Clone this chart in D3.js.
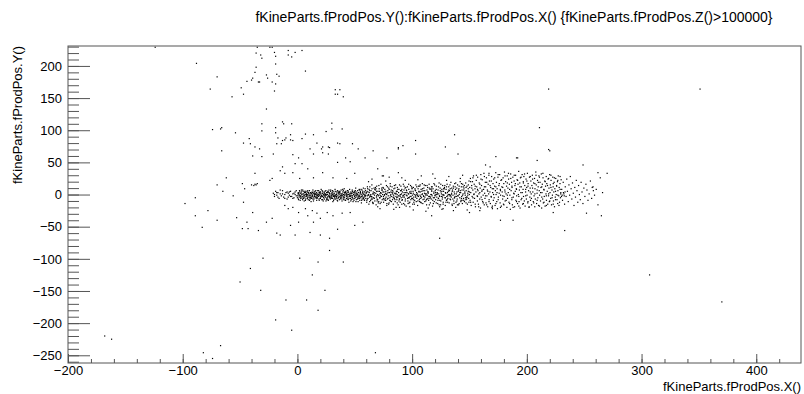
<!DOCTYPE html>
<html><head><meta charset="utf-8">
<script src="https://cdn.jsdelivr.net/npm/d3@7"></script>
<style>body{margin:0;background:#fff} text{font-family:"Liberation Sans",Arial,Helvetica,sans-serif}</style>
</head><body><svg id="c" width="804" height="394"></svg>
<script>
const title = "fKineParts.fProdPos.Y():fKineParts.fProdPos.X() {fKineParts.fProdPos.Z()>100000}";
const xTitle = "fKineParts.fProdPos.X()";
const yTitle = "fKineParts.fProdPos.Y()";
const xDomain = [-200, 439];
const yDomain = [-262, 231];
const xTickValues = [-200, -100, 0, 100, 200, 300, 400];
const yTickValues = [-250, -200, -150, -100, -50, 0, 50, 100, 150, 200];
const xMinorStep = 20, yMinorStep = 10;

// dense band of production points (x, y pairs)
const bandStart = [-21,2,-20,-3,-19,5,-18,-1,-17,3,-16,-6,-15,1,-14,-2,-13,6,-12,-4,-11,0,-10,3,-9,-7,-8,2,-7,-1,-6,5,-5,-3,-4,1,-3,-5,-2,4,-1,-2,-20,0,-17,-4,-13,1,-9,4,-6,-3,-3,2,-1,6,-15,7,-11,-6,-7,4,-4,-6,-2,0,-18,3,-8,-4];
const bandCore = [0.3,-2,0.7,3,0.9,-7,1.2,1,1.5,-4,1.8,6,2.1,-1,2.4,-9,2.8,2,3.1,-5,3.5,4,3.9,0,4.2,-3,4.6,7,4.9,-6,5.3,1,5.6,-2,5.9,-10,6.1,3,6.4,-4,6.8,0,7.2,-7,7.5,5,7.8,-1,7.9,2,8.3,-3,8.6,-6,8.9,4,9.1,0,9.4,-8,9.8,2,10.2,-4,10.5,6,10.7,-1,10.9,-5,11.3,3,11.6,-2,11.9,-11,12.1,1,12.4,-6,12.8,4,12.9,-3,13.2,-1,13.5,7,13.8,-4,14.1,2,14.4,-7,14.7,0,14.9,-2,15.3,5,15.5,-5,15.8,1,16.2,-3,16.5,3,16.8,-9,16.9,-1,17.1,2,17.4,-5,17.7,6,18.2,0,18.5,-3,18.8,-7,18.9,3,19.3,-1,19.6,4,19.9,-6,20.1,1,20.4,-4,20.7,8,20.9,-2,21.2,-8,21.5,2,21.8,-3,22.1,5,22.4,-1,22.7,-5,22.9,0,23.3,3,23.6,-7,23.9,-2,24.2,1,24.5,-4,24.8,6,24.9,-10,25.1,-1,25.4,3,25.7,-6,26.3,0,26.6,-3,26.9,4,26.5,-8,27.2,-2,27.5,7,27.8,-5,28.1,2,28.4,-1,28.7,-7,28.9,5,29.3,-4,29.6,1,29.9,-2,30.2,3,30.5,-6,30.8,0,30.9,-11,31.1,5,31.4,-3,31.7,-1,32.2,2,32.5,-5,32.8,8,32.9,-2,33.3,-7,33.6,0,33.9,4,34.1,-4,34.4,1,34.7,-9,34.9,6,35.2,-2,35.5,3,35.8,-5,36.3,0,36.6,-8,36.9,5,36.4,-3,37.2,2,37.5,-1,37.8,-6,38.1,7,38.4,-4,38.7,1,38.9,-10,39.3,-2,39.6,4,39.9,-7,40.2,0,40.5,-3,40.8,9,40.9,3,41.1,-5,41.4,1,41.7,-9,42.2,5,42.5,-2,42.8,-6,42.9,2,43.3,-1,43.6,6,43.9,-4,44.1,3,44.4,-8,44.7,0,44.9,-12,45.2,-3,45.5,8,45.8,1,46.3,-6,46.6,4,46.9,-1,46.5,-10,47.2,2,47.5,-4,47.8,7,48.1,-2,48.4,-7,48.7,3,48.9,0,49.3,-9,49.6,5,49.9,-3,50.2,1,50.5,-5,50.8,10,50.9,-1,51.1,4,51.4,-8,51.7,-2,52.2,0,52.5,6,52.8,-6,52.9,-11,53.3,3,53.6,-3,53.9,8,54.1,-1,54.4,-9,54.7,2,54.9,5,55.2,-5,55.5,0,55.8,-13,56.3,7,56.6,-2,56.9,3,56.5,-7,57.2,-4,57.5,10,57.8,1,58.1,-8,58.4,4,58.7,-1,58.9,-3,59.3,6,59.6,-6,59.9,2];
const bandCore2 = [0,-5,1,2,1,-8,2,4,3,-2,3,-6,4,1,5,5,5,-4,6,-1,7,-9,7,3,8,0,9,-5,9,6,10,-2,11,1,11,-7,12,-4,13,3,13,-1,14,-10,15,-3,15,2,16,6,17,-6,17,0,18,-2,19,-9,19,1,20,4,20,-6,21,-1,22,2,22,-8,23,-4,24,5,24,-2,25,0,26,-5,26,3,27,-9,28,1,28,-3,29,7,30,-1,30,-4,31,2,32,-7,32,-1,33,5,34,-3,34,0,35,-10,36,2,36,-5,37,4,38,-2,38,-7,39,1,40,-5,40,6,41,-1,42,-9,42,3,43,-3,44,0,44,6,45,-6,46,2,46,-3,47,-8,48,5,48,-5,49,0,50,-2,50,3,51,-11,52,-4,52,2,53,-1,54,7,54,-6,55,3,56,-3,56,-9,57,5,58,0,58,-5,59,-2,59,9,
0.5,1,2.5,-3,4.5,-8,6.5,5,8.5,-1,10.5,-9,12.5,2,14.5,4,16.5,-5,18.5,6,20.5,-3,22.5,-10,24.5,0,26.5,5,28.5,-4,30.5,6,32.5,-3,34.5,-6,36.5,3,38.5,-1,40.5,-8,42.5,0,44.5,4,46.5,-2,48.5,-11,50.5,6,52.5,-7,54.5,-3,56.5,1,58.5,-9,1.5,-1,3.5,7,5.5,-6,7.5,-3,9.5,3,11.5,-5,13.5,-7,15.5,0,17.5,-2,19.5,3,21.5,6,23.5,1,25.5,-8,27.5,3,29.5,-6,31.5,-9,33.5,-2,35.5,5,37.5,-4,39.5,8,41.5,4,43.5,-7,45.5,-1,47.5,2,49.5,-6,51.5,1,53.5,-4,55.5,8,57.5,-6,59.5,-1];
const bandMid = [60.4,-12,60.7,5,60.9,-2,61.2,9,61.5,-6,61.8,0,62.3,-15,62.6,3,62.9,-4,63.1,12,63.5,-1,63.8,-9,64.2,6,64.6,-3,64.9,15,65.3,-7,65.6,1,65.9,-13,66.1,4,66.4,-5,66.8,10,67.2,-1,67.5,-10,67.9,7,68.3,2,68.6,-16,68.9,-4,69.1,13,69.4,-7,69.8,0,70.2,5,70.5,-2,70.9,-11,71.3,9,71.6,-5,71.9,1,72.1,-14,72.5,3,72.8,16,73.2,-3,73.5,7,73.9,-8,74.3,0,74.6,11,74.9,-6,75.1,-12,75.4,4,75.8,-1,76.2,8,76.6,-9,76.9,2,77.3,-4,77.6,14,77.9,-17,78.1,1,78.5,-7,78.8,6,79.2,-2,79.6,10,79.9,-13,80.3,3,80.6,-5,80.9,17,81.1,-10,81.4,0,81.8,7,82.2,-3,82.5,12,82.9,-8,83.3,4,83.6,-15,83.9,-1,84.1,9,84.5,-6,84.8,2,85.2,-11,85.6,15,85.9,-3,86.3,5,86.7,-8,86.9,0,87.1,11,87.4,-4,87.8,-16,88.2,3,88.5,8,88.9,-7,89.3,-1,89.6,-12,89.9,6,90.2,13,90.5,-5,90.8,1,91.1,-9,91.5,4,91.9,-2,92.3,16,92.6,-14,92.9,7,93.2,-4,93.5,0,93.8,10,94.1,-7,94.4,3,94.8,-18,95.2,6,95.6,-2,95.9,12,96.3,-10,96.6,1,96.9,-5,97.1,8,97.5,-13,97.8,4,98.2,-3,98.6,14,98.9,-8,99.3,2,99.6,-6,99.9,9,100.2,-1,100.5,-15,100.8,5,101.1,11,101.4,-4,101.8,0,102.2,-9,102.6,7,102.9,-2,103.3,15,103.6,-11,103.9,3,104.1,-6,104.5,1,104.8,-17,105.2,9,105.5,-3,105.9,5,106.3,-8,106.6,13,106.9,-1,107.1,4,107.4,-12,107.8,8,108.2,-5,108.6,0,108.9,17,109.3,-14,109.6,6,109.9,-2,110.2,10,110.5,-7,110.8,2,111.1,-4,111.5,14,111.9,-10,112.3,1,112.6,-16,112.9,7,113.2,-1,113.5,11,113.8,-6,114.1,4,114.4,-9,114.8,16,115.2,-3,115.6,8,115.9,-13,116.3,0,116.7,-7,116.9,12,117.1,5,117.4,-2,117.8,-18,118.2,9,118.5,-5,118.9,2,119.3,-11,119.6,15,119.9,-1,120.2,6,120.5,-8,120.8,0,121.1,13,121.5,-4,121.9,3,122.3,-14,122.6,7,122.9,-6,123.2,1,123.5,18,123.8,-2,124.1,-9,124.4,10,124.8,-16,125.2,4,125.6,-3,125.9,8,126.3,-7,126.6,14,126.9,0,127.1,-12,127.4,5,127.8,-1,128.2,11,128.6,-5,128.9,-17,129.3,2,129.6,8,129.9,-9,130.2,-3,130.5,16,130.8,3,131.1,-6,131.5,0,131.9,12,132.3,-13,132.6,6,132.9,-2,133.2,9,133.5,-8,133.8,19,134.1,-4,134.4,2,134.8,-15,135.2,7,135.6,-1,135.9,13,136.3,-10,136.7,4,136.9,-5,137.1,17,137.4,-3,137.8,8,138.2,-12,138.5,1,138.9,10,139.3,-7,139.6,15,139.9,-2,140.2,5,140.5,-16,140.8,9,141.1,0,141.5,-5,141.9,20,142.3,3,142.6,-9,142.9,12,143.2,-3,143.5,7,143.8,-14,144.1,16,144.4,1,144.8,-6,145.2,10,145.6,-11,145.9,4,146.3,-1,146.7,18,146.9,-8,147.1,6,147.4,-4,147.8,13,148.2,-15,148.5,2,148.9,9,149.3,-6,149.6,21,149.9,0];
const bandMid2 = [60,3,61,-7,61,12,62,-1,63,6,63,-11,64,0,65,-4,65,9,66,-14,67,3,67,-6,68,11,69,-2,69,5,70,-8,71,14,71,-1,72,-5,73,2,73,-12,74,7,75,-3,75,10,76,0,77,-9,77,5,78,-14,79,3,79,-6,80,8,81,-2,81,13,82,-11,83,1,83,6,84,-4,85,-8,85,10,86,2,87,-13,87,5,88,-2,89,15,89,-7,90,0,91,8,91,-15,92,-4,93,3,93,13,94,-10,95,-1,95,7,96,-6,97,16,97,1,98,-12,99,5,99,-3,100,10,101,-8,101,2,102,-15,103,6,103,-4,104,12,105,-1,105,-10,106,4,107,-6,107,15,108,-13,109,1,109,9,110,-3,111,6,111,-11,112,-1,113,14,113,-7,114,2,115,-16,115,10,116,-4,117,7,117,0,118,-9,119,4,119,17,120,-2,121,-13,121,8,122,1,123,-6,123,12,124,-3,125,16,125,-10,126,5,127,-1,127,-15,128,9,129,-5,129,3,130,12,131,-12,131,-2,132,7,133,-7,133,15,134,0,135,-17,135,5,136,10,137,-5,137,1,138,18,139,-10,139,4,140,-2,141,13,141,-14,142,6,143,-6,143,17,144,-1,145,-9,145,7,146,2,147,-13,147,11,148,-4,149,15,149,5,
60.5,-9,62.5,8,64.5,-7,66.5,1,68.5,9,70.5,-13,72.5,-2,74.5,4,76.5,-6,78.5,12,80.5,-9,82.5,3,84.5,14,86.5,-5,88.5,-10,90.5,6,92.5,-1,94.5,11,96.5,-14,98.5,2,100.5,-6,102.5,9,104.5,-2,106.5,-11,108.5,5,110.5,15,112.5,-8,114.5,-3,116.5,9,118.5,-14,120.5,3,122.5,-9,124.5,6,126.5,-4,128.5,14,130.5,-8,132.5,0,134.5,10,136.5,-14,138.5,-3,140.5,7,142.5,-11,144.5,12,146.5,-5,148.5,-1,61.5,4,63.5,-3,65.5,-12,67.5,8,69.5,-10,71.5,5,73.5,10,75.5,-8,77.5,0,79.5,-15,81.5,4,83.5,-5,85.5,1,87.5,8,89.5,-3,91.5,-8,93.5,-16,95.5,3,97.5,-5,99.5,12,101.5,-12,103.5,0,105.5,13,107.5,-3,109.5,-8,111.5,1,113.5,4,115.5,-6,117.5,12,119.5,-5,121.5,0,123.5,-16,125.5,1,127.5,9,129.5,-12,131.5,5,133.5,-2,135.5,-7,137.5,12,139.5,-16,141.5,3,143.5,-9,145.5,14,147.5,-7,149.5,-12,
65,24,72,-22,80,27,86,-20,94,22,101,-24,108,29,114,-21,120,25,126,-23,132,28,138,-20,144,30,148,-24,62,20,70,-19,77,21,84,-23,91,26,98,-19,105,23,112,-26,118,32,124,-19,130,22,136,-25,142,25];
const bandFar = [150.2,11,150.5,-9,150.8,25,151.1,3,151.5,-17,151.9,14,152.3,-3,152.6,20,152.9,7,153.2,-12,153.5,29,153.8,0,154.1,16,154.4,-6,154.8,9,155.2,-19,155.6,4,155.9,22,156.3,12,156.7,-2,156.9,-10,157.1,27,157.4,6,157.8,-15,158.2,1,158.5,18,158.9,-7,159.3,10,159.6,-21,159.9,31,160.2,-4,160.5,14,160.8,5,161.1,23,161.5,-11,161.9,-1,162.3,8,162.6,33,162.9,-16,163.2,2,163.5,-6,163.8,19,164.1,12,164.4,-13,164.8,26,165.2,-2,165.6,7,165.9,-19,166.3,16,166.7,1,166.9,30,167.1,-8,167.4,21,167.8,4,168.2,-14,168.5,11,168.9,-3,169.3,28,169.6,-20,169.9,9,170.2,3,170.5,17,170.8,-9,171.1,24,171.5,-5,171.9,13,172.3,-17,172.6,6,172.9,34,173.2,0,173.5,19,173.8,-11,174.1,9,174.4,-22,174.8,27,175.2,-4,175.6,14,175.9,2,176.3,31,176.7,-13,176.9,8,177.1,-1,177.4,22,177.8,-18,178.2,12,178.5,4,178.9,-7,179.3,26,179.6,-15,179.9,17,180.2,-3,180.5,35,180.8,7,181.1,-10,181.5,20,181.9,1,182.3,13,182.6,-20,182.9,29,183.2,-6,183.5,10,183.8,3,184.1,24,184.4,-12,184.8,16,185.2,-1,185.6,-23,185.9,32,186.3,6,186.7,19,186.9,-8,187.1,11,187.4,-16,187.8,27,188.2,-4,188.5,2,188.9,21,189.3,-19,189.6,14,189.9,5,190.2,30,190.5,-9,190.8,9,191.1,-2,191.5,23,191.9,-14,192.3,16,192.6,0,192.9,36,193.2,-11,193.5,7,193.8,18,194.1,-21,194.4,26,194.8,3,195.2,12,195.6,-6,195.9,31,196.3,-15,196.7,8,196.9,20,197.1,-3,197.4,28,197.8,-10,198.2,14,198.5,-18,198.9,4,199.3,24,199.6,-7,199.9,11,200.2,-1,200.5,33,200.8,-13,201.1,17,201.5,6,201.9,-20,202.3,27,202.6,-4,202.9,10,203.2,-9,203.5,21,203.8,1,204.1,-16,204.4,14,204.8,30,205.2,4,205.6,-11,205.9,18,206.3,-2,206.7,25,206.9,-19,207.1,9,207.4,-7,207.8,35,208.2,15,208.5,-14,208.9,2,209.3,22,209.6,-5,209.9,12,210.2,-17,210.5,29,210.8,6,211.1,-1,211.5,19,211.9,-10,212.3,11,212.6,32,212.9,-21,213.2,3,213.5,16,213.8,-7,214.1,26,214.4,-13,214.8,8,215.2,-3,215.6,21,215.9,-18,216.3,13,216.7,1,216.9,28,217.1,-9,217.4,17,217.8,5,218.2,-15,218.5,24,218.9,-2,219.3,10,219.6,-11,219.9,31,220.2,3,220.5,15,220.8,-6,221.1,22,221.5,-16,221.9,7,222.3,-1,222.6,27,222.9,12,223.2,-10,223.5,4,223.8,19,224.1,-19,224.4,9,224.8,-4,225.2,25,225.6,0,225.9,14,226.3,-8,226.7,20,226.9,-14,227.1,6,227.4,29,227.8,-2,228.2,11,228.5,-12,228.9,17,229.3,-5,229.6,3,229.9,23];
const bandFar2 = [150,4,151,-12,151,20,152,10,153,-5,153,26,154,1,155,13,155,-15,156,30,157,-3,157,8,158,-19,159,16,159,3,160,24,161,-8,161,7,162,-13,163,28,163,12,164,-2,165,19,165,-16,166,5,167,33,167,-11,168,14,169,-4,169,21,170,-18,171,9,171,0,172,26,173,-14,173,12,174,3,175,31,175,-8,176,17,177,-20,177,6,178,23,179,-2,179,11,180,-16,181,29,181,4,182,-9,183,18,183,-1,184,33,185,8,185,-14,186,25,187,-5,187,13,188,-20,189,30,189,1,190,17,191,-11,191,8,192,22,193,-3,193,-18,194,12,195,27,195,-8,196,3,197,18,197,-14,198,32,199,-2,199,8,200,21,201,-11,201,13,202,-19,203,28,203,4,204,-6,205,24,205,10,206,-13,207,17,207,1,208,30,209,-9,209,7,210,19,211,-18,211,27,212,3,213,-4,213,12,214,33,215,-12,215,7,216,20,217,-2,217,-17,218,14,219,25,219,1,220,-10,221,11,221,30,222,-5,223,17,223,-15,224,26,225,5,225,-8,226,13,227,-1,227,22,228,-17,229,8,229,28];
const bandEnd = [230.4,8,231.1,-9,231.7,19,232.3,1,232.9,-15,233.5,12,234.2,-3,234.8,24,235.4,5,236.1,-11,236.7,15,237.3,-1,237.9,28,238.6,9,239.2,-7,239.8,18,240.5,2,241.1,-17,241.8,11,242.4,-4,243.1,22,243.7,6,244.4,-12,245.1,14,245.8,0,246.6,-8,247.3,19,248.1,4,248.9,-14,249.7,10,250.6,-3,251.5,16,252.4,7,253.3,-9,254.3,1,255.4,21,256.5,-6,257.7,12,259.0,-1,260.5,8,262,-16,264,26,266,3,230.8,-1,231.9,3,232.6,-2,233.3,4,229.5,1,230.2,-3];
// sparse halo around the target region
const halo = [-124,229,-88,204,-70,183,-76,164,-57,152,-67,102,-74,101,-35,229,-24,229,-22,229,-8,224,4,224,-36,220,-32,217,-20,221,-19,215,-8,217,-5,214,-2,221,-31,212,-19,203,-36,198,7,192,-37,190,-27,186,-26,181,-18,187,-16,184,-39,181,-44,176,-40,178,-34,175,-33,175,-22,175,-19,172,-20,161,-49,166,-47,156,33,163,37,163,33,156,35,156,40,152,-27,133,-31,110,-13,113,-12,110,-5,110,-31,99,-19,104,-19,96,30,111,30,102,39,102,25,98,7,94,14,93,-17,88,-10,88,-6,93,-4,84,4,87,-13,84,-11,85,-18,79,-14,79,-6,85,-47,80,-42,87,-41,79,-37,74,-33,71,22,74,27,74,28,73,35,80,37,79,48,79,17,80,88,71,53,71,21,71,11,71,
-39,60,-31,59,-21,63,-4,62,1,57,-2,48,4,48,9,40,14,63,22,65,27,63,42,57,46,51,35,50,59,57,-13,43,-11,33,-15,37,-37,33,-35,17,-40,15,-48,17,-46,9,-24,22,-22,25,2,25,-4,34,14,26,22,34,31,26,43,25,50,33,-38,14,-37,16,-36,15,
-11,-17,-8,-22,-4,-20,1,-28,7,-22,9,-33,13,-25,17,-29,20,-37,14,-43,1,-43,-6,-48,26,-28,31,-33,39,-29,46,-28,-22,-37,-27,-43,-39,-28,-44,-43,-43,-53,-34,-56,-18,-60,-15,-63,-2,-63,11,-59,20,-63,28,-68,35,-54,50,-48,57,-43,-47,-12,-48,-53,
-66,104,-54,96,-66,68,-62,26,-70,15,-89,-5,-65,5,-56,-2,-78,-25,-89,-33,-70,-40,-83,-51,-53,-36,-98,-14,
28,-87,18,-105,2,-99,40,-105,13,-125,24,-149,8,-164,18,-180,-10,-164,-30,-99,-41,-115,-50,-136,-19,-195,-32,-149,
66,68,78,57,88,73,92,76,103,63,129,74,140,63,173,59,70,40,88,34,75,29,164,46,168,43,117,-33,150,-28,177,-40,127,-22,89,-20,159,-25,170,-22,
137,93,211,104,103,84,191,57,219,70,209,53,249,46,262,34,270,33,257,11,258,6,265,-33,252,-29,233,-56,124,-68,188,-40,74,29,192,57,220,68,223,-28];
// isolated points far from the band
const outliers = [-168,-220,-162,-225,-82,-246,-74,-255,-67,-235,-5,-211,68,-246,219,164,351,164,307,-125,370,-167];

const m = {l: 68, r: 801, t: 46, b: 363};
const svg = d3.select("#c");
const x = d3.scaleLinear().domain(xDomain).range([m.l, m.r]);
const y = d3.scaleLinear().domain(yDomain).range([m.b, m.t]);

function pairs(a){ return d3.range(0, a.length, 2).map(i => [a[i], a[i+1]]); }
const pts = [].concat(pairs(bandStart), pairs(bandCore), pairs(bandCore2), pairs(bandMid), pairs(bandMid2),
  pairs(bandFar), pairs(bandFar2), pairs(bandEnd), pairs(halo), pairs(outliers));

svg.append("g").selectAll("rect").data(pts).join("rect")
  .attr("x", d => x(d[0]) - 0.6).attr("y", d => y(d[1]) - 0.6)
  .attr("width", 1.2).attr("height", 1.2).attr("fill", "#000");

const axisColor = "#555";
function styleAxis(g){
  g.select(".domain").remove();
  g.selectAll("line").attr("stroke", axisColor);
  g.selectAll("text").attr("fill", "#000").style("font-size", "13px").style("font-family", '"Liberation Sans", Arial, sans-serif');
}
const fmt = d => d < 0 ? "\u2212" + Math.abs(d) : String(d);
// y axis
svg.append("g").attr("transform", `translate(${m.l},0)`)
  .call(d3.axisLeft(y).tickValues(d3.range(-260, 231, yMinorStep)).tickSize(-11).tickFormat(""))
  .call(styleAxis);
svg.append("g").attr("transform", `translate(${m.l},0)`)
  .call(d3.axisLeft(y).tickValues(yTickValues).tickSize(-22).tickPadding(6).tickFormat(fmt))
  .call(styleAxis);
// x axis
svg.append("g").attr("transform", `translate(0,${m.b})`)
  .call(d3.axisBottom(x).tickValues(d3.range(-200, 440, xMinorStep)).tickSize(-4).tickFormat(""))
  .call(styleAxis);
svg.append("g").attr("transform", `translate(0,${m.b})`)
  .call(d3.axisBottom(x).tickValues(xTickValues).tickSize(-9).tickPadding(3).tickFormat(fmt))
  .call(styleAxis);

svg.append("rect").attr("x", m.l).attr("y", m.t).attr("width", m.r - m.l).attr("height", m.b - m.t)
  .attr("fill", "none").attr("stroke", axisColor).attr("stroke-width", 1);

svg.append("text").attr("x", 514).attr("y", 22).attr("text-anchor", "middle").style("font-size", "14px").text(title);
svg.append("text").attr("x", m.r).attr("y", 391).attr("text-anchor", "end").style("font-size", "13px").text(xTitle);
svg.append("text").attr("transform", `translate(22,${m.t}) rotate(-90)`).attr("text-anchor", "end").style("font-size", "13px").text(yTitle);
</script></body></html>
